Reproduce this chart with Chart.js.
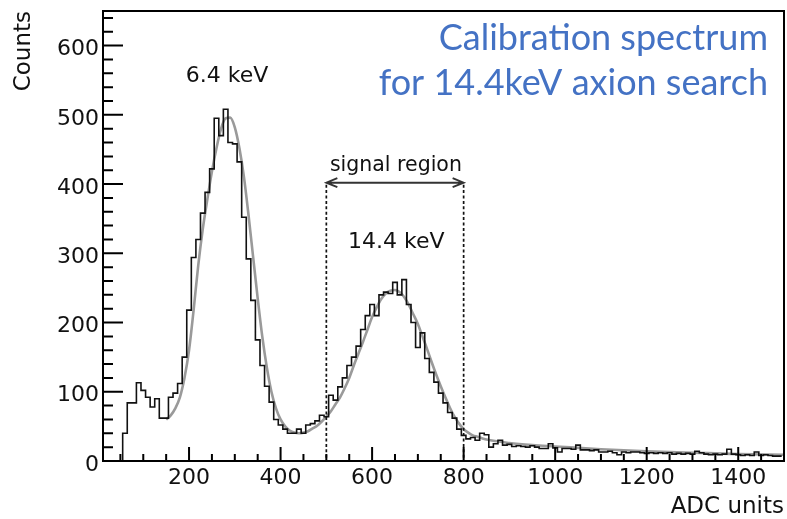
<!DOCTYPE html>
<html><head><meta charset="utf-8">
<script src="https://cdn.jsdelivr.net/npm/chart.js@4.4.0/dist/chart.umd.min.js"></script>
<style>html,body{margin:0;padding:0;background:#fff;}canvas{display:block;}</style>
</head><body>
<canvas id="c" width="787" height="519"></canvas>
<script>
// ---------- data ----------
const binWidth = 10;            // ADC units per bin
const firstBinCenter = 60;
const counts = [
  9,40,84,84,113,102,92,78,90,62,
  62,92,98,112,150,218,294,320,358,388,
  422,495,470,508,460,458,432,352,292,232,
  175,138,108,85,60,52,46,40,40,46,
  40,52,54,58,66,64,95,88,107,120,
  138,150,166,190,210,226,210,240,244,242,
  258,240,262,226,200,164,185,148,128,114,
  98,84,70,62,46,37,32,34,30,40,
  38,20,25,30,23,24,21,22,21,20,
  22,20,18,18,25,19,13,18,18,17,
  23,16,16,15,16,13,13,14,12,9,
  13,12,13,13,12,11,12,11,12,11,
  12,10,11,10,11,10,14,12,10,9,
  10,9,10,17,10,9,8,9,8,13,
  8,9,8,7
];
const fitX = [150,160,170,180,190,200,210,220,230,240,250,260,270,280,290,300,310,320,330,340,
  350,360,370,380,390,400,410,420,430,440,450,460,470,480,490,500,510,520,530,540,
  550,560,570,580,590,600,610,620,630,640,650,660,670,680,690,700,710,720,730,740,
  750,760,770,780,790,800,810,820,830,840,850,900,950,1000,1100,1200,1300,1400,1500];
const fitY = [60,66,76,92,120,160,218,282,335,378,418,452,480,495,496,482,452,410,355,295,
  235,180,135,100,76,60,50,44,41,40,41,43,47,51,57,64,72,82,92,105,
  120,138,155,172,190,208,222,234,242,246,247,244,237,226,212,198,180,162,143,125,
  108,92,77,64,54,46,41,37,35,33,31,26,23,21,17,14,12,10,9];
const xTickValues = [200,400,600,800,1000,1200,1400];
const yTickValues = [0,100,200,300,400,500,600];
const signalRegion = [500, 800];
const titleLines = ['Calibration spectrum', 'for 14.4keV axion search'];

// ---------- build library data ----------
const histPoints = [{x: firstBinCenter - binWidth/2, y: 0}];
counts.forEach((c, i) => histPoints.push({x: firstBinCenter + i*binWidth - binWidth/2, y: c}));
histPoints.push({x: firstBinCenter + counts.length*binWidth - binWidth/2, y: counts[counts.length-1]});
const fitPoints = fitX.map((x, i) => ({x, y: fitY[i]}));

const FONT = 'DejaVu Sans';

function noScalePadding(s) {
  s.paddingTop = 0; s.paddingBottom = 0; s.paddingLeft = 0; s.paddingRight = 0;
}

const decor = {
  id: 'decor',
  afterDatasetsDraw(chart) {
    const {ctx, chartArea: a, scales: {x, y}} = chart;
    ctx.save();
    // signal region dashed lines + arrow
    const xa = x.getPixelForValue(signalRegion[0]);
    const xb = x.getPixelForValue(signalRegion[1]);
    const ya = y.getPixelForValue(402);
    const y0 = y.getPixelForValue(0);
    ctx.strokeStyle = '#111';
    ctx.lineWidth = 1.7;
    ctx.setLineDash([3, 2.4]);
    ctx.beginPath();
    ctx.moveTo(xa, ya + 2); ctx.lineTo(xa, y0);
    ctx.moveTo(xb, ya + 2); ctx.lineTo(xb, y0);
    ctx.stroke();
    ctx.setLineDash([]);
    ctx.strokeStyle = '#333';
    ctx.lineWidth = 1.9;
    ctx.beginPath();
    ctx.moveTo(xa, ya); ctx.lineTo(xb, ya);
    ctx.moveTo(xa + 11, ya - 4.5); ctx.lineTo(xa, ya); ctx.lineTo(xa + 11, ya + 4.5);
    ctx.moveTo(xb - 11, ya - 4.5); ctx.lineTo(xb, ya); ctx.lineTo(xb - 11, ya + 4.5);
    ctx.stroke();

    // frame
    ctx.strokeStyle = '#000';
    ctx.lineWidth = 2;
    ctx.strokeRect(a.left, a.top, a.right - a.left, a.bottom - a.top);
    // ticks
    ctx.beginPath();
    for (let v = 50; v < x.max; v += 50) {
      if (v <= x.min) continue;
      const px = x.getPixelForValue(v);
      const len = xTickValues.includes(v) ? 14 : 7;
      ctx.moveTo(px, a.bottom); ctx.lineTo(px, a.bottom - len);
    }
    for (let v = 20; v < y.max; v += 20) {
      const py = y.getPixelForValue(v);
      const len = yTickValues.includes(v) ? 20 : 10;
      ctx.moveTo(a.left, py); ctx.lineTo(a.left + len, py);
    }
    ctx.stroke();

    // labels
    ctx.fillStyle = '#111';
    ctx.textAlign = 'center';
    ctx.textBaseline = 'alphabetic';
    ctx.font = '22px "' + FONT + '"';
    ctx.fillText('6.4 keV', x.getPixelForValue(283), y.getPixelForValue(547));
    ctx.fillText('14.4 keV', x.getPixelForValue(653), y.getPixelForValue(307.5));
    ctx.font = '20.5px "' + FONT + '"';
    ctx.fillText('signal region', x.getPixelForValue(652), y.getPixelForValue(419));

    // blue caption
    ctx.fillStyle = '#4472C4';
    ctx.textAlign = 'right';
    ctx.font = '36px Lato';
    ctx.fillText(titleLines[0], 768, 50);
    ctx.fillText(titleLines[1], 768, 95);
    ctx.restore();
  }
};

new Chart(document.getElementById('c'), {
  type: 'line',
  data: {
    datasets: [
      {data: histPoints, stepped: 'after', borderColor: '#111', borderWidth: 1.6, pointRadius: 0, fill: false, order: 1},
      {data: fitPoints, borderColor: '#9a9a9a', borderWidth: 2.6, pointRadius: 0, fill: false, cubicInterpolationMode: 'monotone', order: 2}
    ]
  },
  options: {
    responsive: false,
    animation: false,
    devicePixelRatio: 1,
    layout: {autoPadding: false, padding: {left: 0, right: 3, top: 11, bottom: 0}},
    plugins: {legend: {display: false}, tooltip: {enabled: false}},
    scales: {
      x: {
        type: 'linear', min: 12, max: 1500,
        grid: {display: false, drawTicks: false},
        border: {display: false},
        afterBuildTicks: s => { s.ticks = xTickValues.map(v => ({value: v})); },
        afterFit: s => { s.height = 58; noScalePadding(s); },
        ticks: {font: {family: FONT, size: 22}, color: '#111', padding: 4, maxRotation: 0, autoSkip: false,
                callback: v => String(v)},
        title: {display: true, text: 'ADC units', align: 'end', color: '#111',
                font: {family: FONT, size: 23, lineHeight: 1}, padding: {top: 0, bottom: 0}}
      },
      y: {
        type: 'linear', min: 0, max: 650,
        grid: {display: false, drawTicks: false},
        border: {display: false},
        afterBuildTicks: s => { s.ticks = yTickValues.map(v => ({value: v})); },
        afterFit: s => { s.width = 103; noScalePadding(s); },
        ticks: {font: {family: FONT, size: 22}, color: '#111', padding: 4, labelOffset: 4,
                callback: v => String(v)},
        title: {display: true, text: 'Counts', align: 'end', color: '#111',
                font: {family: FONT, size: 23, lineHeight: 1}, padding: {top: 12.7, bottom: 0}}
      }
    }
  },
  plugins: [decor]
});
</script>
</body></html>
